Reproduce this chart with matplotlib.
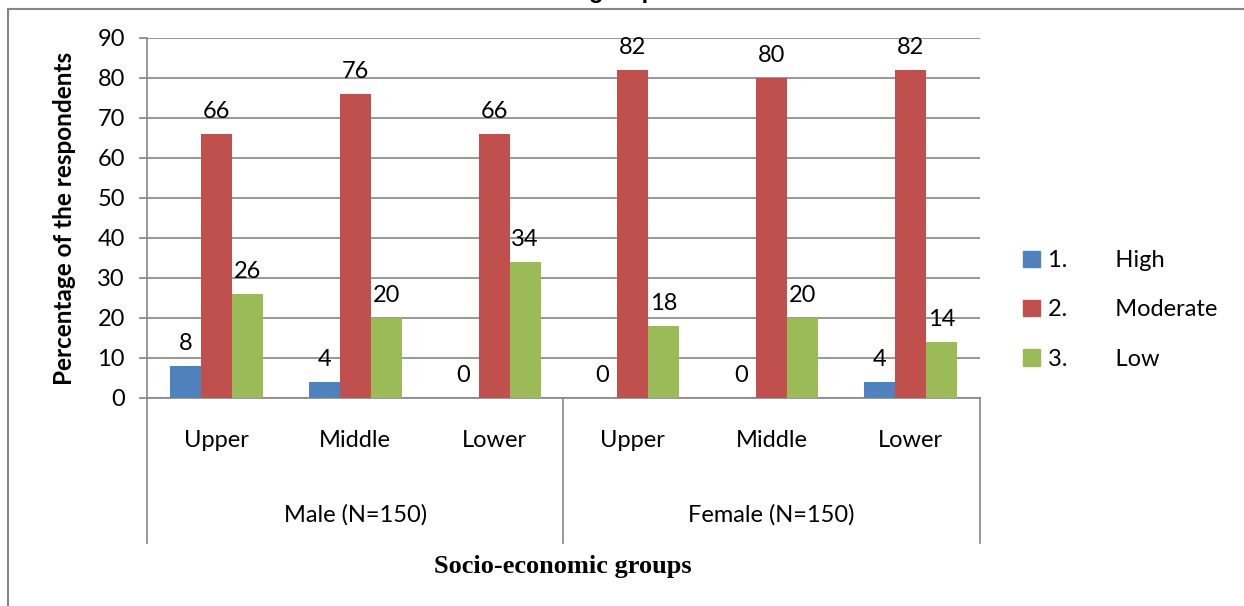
import numpy as np
import matplotlib.pyplot as plt
from matplotlib.patches import Patch
from matplotlib.transforms import blended_transform_factory

# Respondents' level by gender and socio-economic group (%)
genders = ['Male (N=150)', 'Female (N=150)']
classes = ['Upper', 'Middle', 'Lower', 'Upper', 'Middle', 'Lower']
series = ['1.        High', '2.        Moderate', '3.        Low']
high = [8, 4, 0, 0, 0, 4]
moderate = [66, 76, 66, 82, 80, 82]
low = [26, 20, 34, 18, 20, 14]
colors = ['#4F81BD', '#C0504D', '#9BBB59']

plt.rcParams['font.family'] = ['Lato', 'DejaVu Sans']
grid_col = '#868686'
fs = 17

fig = plt.figure(figsize=(12.44, 6.06), dpi=100)
ax = fig.add_axes([147 / 1244, 1 - 398 / 606, 833 / 1244, 360 / 606])

x = np.arange(len(classes))
w = 0.2233
for i, (vals, c) in enumerate(zip([high, moderate, low], colors)):
    bars = ax.bar(x + (i - 1) * w, vals, w, color=c, label=series[i], zorder=3)
    for b, v in zip(bars, vals):
        ax.annotate(str(v), (b.get_x() + b.get_width() / 2, v),
                    xytext=(0, 9), textcoords='offset points',
                    ha='center', va='bottom', fontsize=fs)

ax.set_xlim(-0.5, len(classes) - 0.5)
ax.set_ylim(0, 90)
ax.set_yticks(range(0, 91, 10))
ax.yaxis.grid(True, color=grid_col, linewidth=1.2, zorder=0)
ax.tick_params(axis='y', length=6, width=1.2, color=grid_col, pad=10, labelsize=fs)
ax.set_xticks([])
for s in ['top', 'right']:
    ax.spines[s].set_visible(False)
for s in ['left', 'bottom']:
    ax.spines[s].set_color(grid_col)
    ax.spines[s].set_linewidth(1.2)

# two-level category axis
tr = blended_transform_factory(ax.transData, ax.transAxes)
for xi, name in zip(x, classes):
    ax.text(xi, -0.118, name, transform=tr, ha='center', va='center', fontsize=fs)
for gi, g in enumerate(genders):
    ax.text(gi * 3 + 1, -0.325, g, transform=tr, ha='center', va='center', fontsize=fs)
for xs in [-0.5, 2.5, 5.5]:
    ax.plot([xs, xs], [0, -0.403], transform=tr, color=grid_col,
            linewidth=1.2, clip_on=False)

ax.set_ylabel('Percentage of the respondents', fontsize=17.5, fontweight='bold',
              labelpad=15)
fig.text(563 / 1244, 1 - 566 / 606, 'Socio-economic groups', ha='center',
         va='center', fontsize=19, fontweight='bold', family='Liberation Serif')
fig.text(629 / 1244, 1 + 2 / 606, 'groups', ha='center', va='baseline', fontsize=17,
         fontweight='bold', family='Liberation Sans')

handles = [Patch(color=c) for c in colors]
fig.legend(handles, series, loc='center left',
           bbox_to_anchor=(1002 / 1244, 1 - 310 / 606), frameon=False,
           fontsize=fs, handlelength=0.7, handleheight=0.7,
           handletextpad=0.35, labelspacing=1.2)

# outer chart frame (top and left edges)
fig.add_artist(plt.Line2D([8 / 1244, 1], [1 - 9 / 606] * 2, color=grid_col,
                          linewidth=1.5, transform=fig.transFigure))
fig.add_artist(plt.Line2D([8 / 1244] * 2, [0, 1 - 9 / 606], color=grid_col,
                          linewidth=1.5, transform=fig.transFigure))

fig.savefig('out.png', dpi=100)
